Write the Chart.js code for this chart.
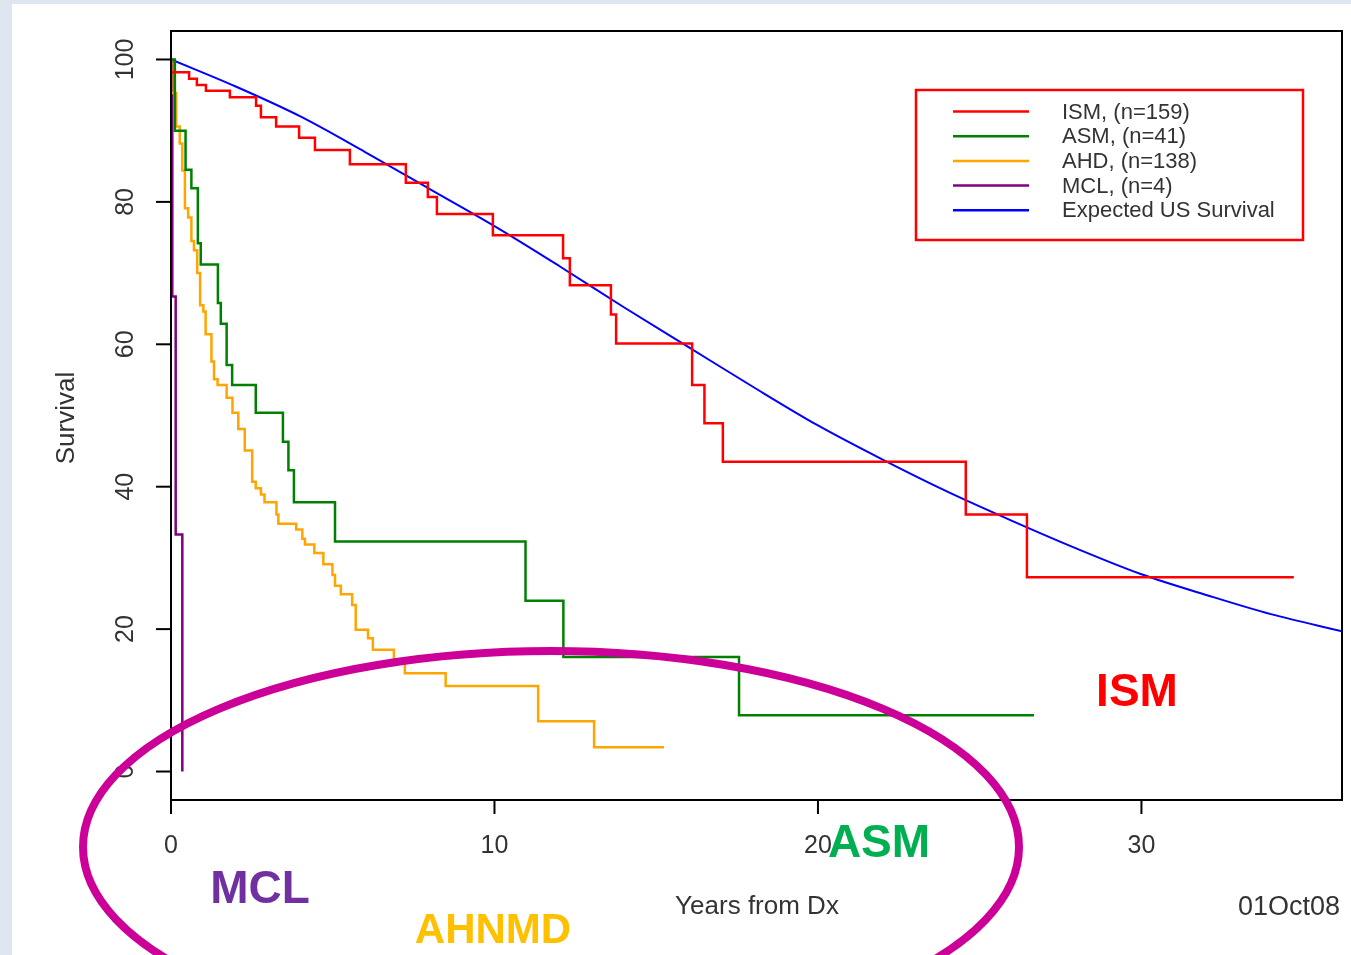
<!DOCTYPE html>
<html>
<head>
<meta charset="utf-8">
<script src="https://cdn.jsdelivr.net/npm/chart.js@4.4.1/dist/chart.umd.min.js"></script>
<style>
  body { margin: 0; background: #dde6f1; overflow: hidden; }
  #km { position: absolute; left: 12px; top: 4px; background: #fff; }
</style>
</head>
<body>
<canvas id="km" width="1339" height="951"></canvas>
<script>
// Kaplan-Meier survival by mastocytosis subtype
var seriesLabels = ["ISM, (n=159)", "ASM, (n=41)", "AHD, (n=138)", "MCL, (n=4)", "Expected US Survival"];
var seriesColors = ["#ff0000", "#008000", "#ffa500", "#800080", "#0000ff"];

var ismTimes = [0, 0.56, 0.80, 1.08, 1.82, 2.63, 2.78, 3.25, 3.96, 4.45, 5.53, 7.26, 7.94, 8.22, 9.95, 12.12, 12.33, 13.60, 13.76, 16.11, 16.49, 17.06, 24.57, 26.46, 34.71];
var ismSurv  = [98.2, 97.3, 96.4, 95.6, 94.7, 93.5, 91.9, 90.6, 89.0, 87.3, 85.3, 82.7, 80.7, 78.3, 75.3, 72.1, 68.3, 64.2, 60.1, 54.3, 48.9, 43.5, 36.1, 27.3, 27.3];

var asmTimes = [0, 0.12, 0.45, 0.63, 0.83, 0.92, 1.45, 1.54, 1.72, 1.89, 2.62, 3.46, 3.63, 3.80, 5.07, 10.96, 12.13, 17.56, 26.68];
var asmSurv  = [100, 90.0, 84.5, 81.9, 74.2, 71.2, 65.8, 62.9, 57.1, 54.3, 50.4, 46.3, 42.3, 37.8, 32.3, 24.0, 16.1, 7.9, 7.9];

var ahdTimes = [0, 0.01, 0.16, 0.27, 0.35, 0.43, 0.53, 0.63, 0.71, 0.81, 0.90, 1.00, 1.07, 1.25, 1.33, 1.44, 1.72, 1.90, 2.08, 2.28, 2.51, 2.62, 2.78, 2.89, 3.26, 3.32, 3.87, 4.06, 4.14, 4.43, 4.71, 4.99, 5.07, 5.25, 5.60, 5.71, 6.09, 6.24, 6.89, 7.23, 8.49, 11.35, 13.08, 15.24];
var ahdSurv  = [100, 95.3, 90.6, 88.2, 84.4, 79.1, 77.8, 74.5, 73.2, 70.0, 65.5, 64.6, 61.4, 57.6, 55.1, 54.3, 52.5, 50.4, 48.1, 45.1, 40.7, 39.8, 38.9, 37.8, 36.1, 34.8, 34.0, 32.7, 31.9, 30.7, 29.1, 27.6, 26.1, 24.9, 23.4, 19.9, 18.7, 17.1, 15.5, 13.8, 12.0, 7.05, 3.4, 3.4];

var mclTimes = [0, 0.04, 0.145, 0.35];
var mclSurv  = [100, 66.7, 33.3, 0];

var expTimes = [0, 2, 4, 6, 8, 10, 12, 14, 16, 18, 20, 22, 24, 26, 28, 30, 32, 34, 36.2];
var expSurv  = [100, 96.2, 92.0, 87.0, 81.8, 76.6, 71.0, 65.2, 59.6, 54.0, 48.6, 43.8, 39.3, 35.2, 31.3, 27.7, 24.8, 22.1, 19.7];

var xTicks = [0, 10, 20, 30];
var yTicks = [0, 20, 40, 60, 80, 100];

var callouts = [
  { text: "ISM",   color: "#ff0000", x: 1125, y: 702, size: 46 },
  { text: "ASM",   color: "#00b050", x: 867,  y: 853, size: 46 },
  { text: "MCL",   color: "#7030a0", x: 248,  y: 899, size: 46 },
  { text: "AHNMD", color: "#ffc000", x: 481,  y: 939, size: 42 }
];

function pts(t, s) {
  return t.map(function (v, i) { return { x: v, y: s[i] }; });
}

function kmSet(i, t, s) {
  return {
    label: seriesLabels[i],
    data: pts(t, s),
    borderColor: seriesColors[i],
    borderWidth: 2.5,
    stepped: true,
    pointRadius: 0,
    fill: false
  };
}

var decor = {
  id: "decor",
  afterDraw: function (chart) {
    var ctx = chart.ctx;
    var a = chart.chartArea;
    var xs = chart.scales.x, ys = chart.scales.y;
    ctx.save();

    // frame
    ctx.strokeStyle = "#000";
    ctx.lineWidth = 2;
    ctx.strokeRect(a.left, a.top, a.right - a.left, a.bottom - a.top);

    // ticks + labels
    ctx.fillStyle = "#333";
    ctx.font = "25px 'Liberation Sans', Arial, sans-serif";
    ctx.textAlign = "center";
    ctx.textBaseline = "middle";
    xTicks.forEach(function (v) {
      var px = xs.getPixelForValue(v);
      ctx.beginPath();
      ctx.moveTo(px, a.bottom);
      ctx.lineTo(px, a.bottom + 14);
      ctx.stroke();
      ctx.fillText(String(v), px, a.bottom + 46);
    });
    yTicks.forEach(function (v) {
      var py = ys.getPixelForValue(v);
      ctx.beginPath();
      ctx.moveTo(a.left, py);
      ctx.lineTo(a.left - 15, py);
      ctx.stroke();
      ctx.save();
      ctx.translate(a.left - 45, py);
      ctx.rotate(-Math.PI / 2);
      ctx.fillText(String(v), 0, 0);
      ctx.restore();
    });

    // axis titles
    ctx.font = "26px 'Liberation Sans', Arial, sans-serif";
    ctx.fillText("Years from Dx", 745, 903);
    ctx.save();
    ctx.translate(55, 414);
    ctx.rotate(-Math.PI / 2);
    ctx.fillText("Survival", 0, 0);
    ctx.restore();
    ctx.textAlign = "right";
    ctx.font = "27px 'Liberation Sans', Arial, sans-serif";
    ctx.fillText("01Oct08", 1328, 904);

    // legend
    ctx.strokeStyle = "#ff0000";
    ctx.lineWidth = 2.5;
    ctx.strokeRect(904, 86, 387, 150);
    ctx.font = "22px 'Liberation Sans', Arial, sans-serif";
    ctx.textAlign = "left";
    chart.data.datasets.forEach(function (ds, i) {
      var ly = 107.5 + i * 24.7;
      ctx.strokeStyle = ds.borderColor;
      ctx.lineWidth = 2.5;
      ctx.beginPath();
      ctx.moveTo(941, ly);
      ctx.lineTo(1017, ly);
      ctx.stroke();
      ctx.fillStyle = "#333";
      ctx.fillText(ds.label, 1050, ly + 1);
    });

    // callouts
    ctx.textAlign = "center";
    ctx.textBaseline = "alphabetic";
    callouts.forEach(function (c) {
      ctx.fillStyle = c.color;
      ctx.font = "bold " + c.size + "px 'Liberation Sans', Arial, sans-serif";
      ctx.fillText(c.text, c.x, c.y);
    });

    // ellipse round the poor-prognosis groups
    ctx.strokeStyle = "#cc0099";
    ctx.lineWidth = 8;
    ctx.beginPath();
    ctx.ellipse(539, 843, 468, 196, 0, 0, Math.PI * 2);
    ctx.stroke();

    ctx.restore();
  }
};

var chart = new Chart(document.getElementById("km"), {
  type: "line",
  data: {
    datasets: [
      kmSet(0, ismTimes, ismSurv),
      kmSet(1, asmTimes, asmSurv),
      kmSet(2, ahdTimes, ahdSurv),
      kmSet(3, mclTimes, mclSurv),
      {
        label: seriesLabels[4],
        data: pts(expTimes, expSurv),
        borderColor: seriesColors[4],
        borderWidth: 2,
        pointRadius: 0,
        tension: 0.4,
        cubicInterpolationMode: "monotone",
        fill: false
      }
    ]
  },
  options: {
    responsive: false,
    animation: false,
    devicePixelRatio: 1,
    layout: { padding: { left: 159, top: 27, right: 9, bottom: 155 } },
    plugins: { legend: { display: false }, tooltip: { enabled: false } },
    scales: {
      x: { type: "linear", min: 0, max: 36.2, display: false },
      y: { type: "linear", min: -4, max: 104, display: false }
    }
  },
  plugins: [decor]
});
</script>
</body>
</html>
